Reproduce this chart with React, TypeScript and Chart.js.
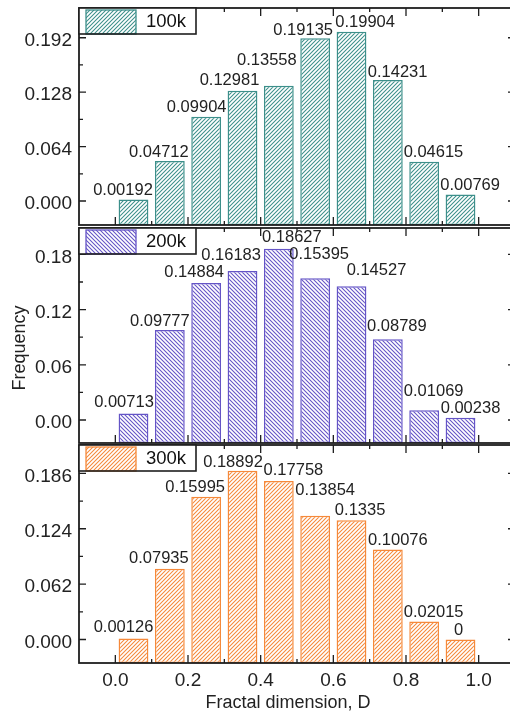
import React, { useEffect, useRef } from "react";
import { Chart, registerables } from "chart.js";

Chart.register(...registerables);

const FONT = "'Liberation Sans', Arial, Helvetica, sans-serif";

// ---- data ----
const binCenters = [0.05, 0.15, 0.25, 0.35, 0.45, 0.55, 0.65, 0.75, 0.85, 0.95];
const xTickValues = [0, 0.2, 0.4, 0.6, 0.8, 1.0];
const seriesNames = ["100k", "200k", "300k"];
const freq100k = [0.00192, 0.04712, 0.09904, 0.12981, 0.13558, 0.19135, 0.19904, 0.14231, 0.04615, 0.00769];
const freq200k = [0.00713, 0.09777, 0.14884, 0.16183, 0.18627, 0.15395, 0.14527, 0.08789, 0.01069, 0.00238];
const freq300k = [0.00126, 0.07935, 0.15995, 0.18892, 0.17758, 0.13854, 0.1335, 0.10076, 0.02015, 0];
const yTicks100k = [0, 0.064, 0.128, 0.192];
const yTicks200k = [0, 0.06, 0.12, 0.18];
const yTicks300k = [0, 0.062, 0.124, 0.186];
const xTitle = "Fractal dimension, D";
const yTitle = "Frequency";

// ---- layout / style config ----
type PanelCfg = {
  name: string;
  values: number[];
  ticks: number[];
  decimals: number;
  min: number;
  max: number;
  color: string;
  dir: "fwd" | "back";
  top: number;
  height: number;
  padTop: number;
  padBottom: number;
  showX: boolean;
  showYTitle: boolean;
  nudges: number[][];
};

const panels: PanelCfg[] = [
  {
    name: seriesNames[0], values: freq100k, ticks: yTicks100k, decimals: 3,
    min: -0.0282, max: 0.227, color: "#3c8f8a", dir: "fwd",
    top: 0, height: 226, padTop: 8, padBottom: 1, showX: false, showYTitle: false,
    nudges: [[-10.5, -4.4], [-11, -3.9], [-9.5, -4.8], [-13, -5.6], [-12, -20.7], [-12, -3.3], [13.6, -4.8], [9.8, -3], [9.3, -4.8], [9.6, -4.5]],
  },
  {
    name: seriesNames[1], values: freq200k, ticks: yTicks200k, decimals: 2,
    min: -0.025, max: 0.2087, color: "#6454c6", dir: "back",
    top: 226, height: 218, padTop: 2, padBottom: 1, showX: false, showYTitle: true,
    nudges: [[-9.5, -6.4], [-10, -4], [-12, -5.6], [-11.4, -11], [13, -6.6], [4, -19], [25, -11], [9, -8], [9.5, -14], [10, -5]],
  },
  {
    name: seriesNames[2], values: freq300k, ticks: yTicks300k, decimals: 3,
    min: -0.0263, max: 0.2178, color: "#f5893a", dir: "fwd",
    top: 444, height: 267, padTop: 1, padBottom: 0, showX: true, showYTitle: false,
    nudges: [[-10, -6.7], [-11, -5.6], [-11, -5], [-9.5, -4], [14.6, -6], [10, -21], [8.6, -5.3], [10, -4.5], [9.5, -4.8], [-2, -4.5]],
  },
];

function makeHatch(color: string, dir: "fwd" | "back"): CanvasPattern {
  const s = 4;
  const c = document.createElement("canvas");
  c.width = s;
  c.height = s;
  const g = c.getContext("2d")!;
  g.fillStyle = "#ffffff";
  g.fillRect(0, 0, s, s);
  g.strokeStyle = color;
  g.lineWidth = 1.05;
  g.beginPath();
  if (dir === "fwd") {
    g.moveTo(0, s); g.lineTo(s, 0);
    g.moveTo(-1, 1); g.lineTo(1, -1);
    g.moveTo(s - 1, s + 1); g.lineTo(s + 1, s - 1);
  } else {
    g.moveTo(0, 0); g.lineTo(s, s);
    g.moveTo(-1, s - 1); g.lineTo(1, s + 1);
    g.moveTo(s - 1, -1); g.lineTo(s + 1, 1);
  }
  g.stroke();
  return g.createPattern(c, "repeat")!;
}

function Panel({ cfg }: { cfg: PanelCfg }) {
  const ref = useRef<HTMLCanvasElement>(null);
  useEffect(() => {
    const canvas = ref.current!;
    const pattern = makeHatch(cfg.color, cfg.dir);
    const step = cfg.ticks[1] - cfg.ticks[0];
    const half = step / 2;
    const allTicks: { v: number; major: boolean }[] = [];
    for (let k = Math.ceil(cfg.min / half); k <= Math.floor(cfg.max / half); k++) {
      allTicks.push({ v: k * half, major: k % 2 === 0 });
    }

    const overlay = {
      id: "overlay",
      afterDatasetsDraw(chart: any) {
        const { ctx, chartArea: a, scales } = chart;
        const xs = scales.x;
        const ys = scales.y;
        ctx.save();
        // value labels
        const meta = chart.getDatasetMeta(0);
        ctx.font = `16.5px ${FONT}`;
        ctx.fillStyle = "#222";
        ctx.textAlign = "center";
        ctx.textBaseline = "alphabetic";
        meta.data.forEach((el: any, i: number) => {
          const [dx, dy] = cfg.nudges[i];
          ctx.fillText(String(cfg.values[i]), el.x + dx, el.y + dy);
        });
        // frame
        ctx.strokeStyle = "#1e1e1e";
        ctx.lineWidth = 1.8;
        ctx.strokeRect(a.left, a.top, a.right - a.left, a.bottom - a.top);
        // ticks (inward)
        ctx.lineWidth = 1.3;
        ctx.beginPath();
        for (let k = 0; k <= 10; k++) {
          const px = xs.getPixelForValue(k / 10);
          const len = k % 2 === 0 ? 8 : 4;
          ctx.moveTo(px, a.bottom); ctx.lineTo(px, a.bottom - len);
          ctx.moveTo(px, a.top); ctx.lineTo(px, a.top + len);
        }
        allTicks.forEach((t) => {
          const py = ys.getPixelForValue(t.v);
          const len = t.major ? 7 : 4;
          ctx.moveTo(a.left, py); ctx.lineTo(a.left + len, py);
          ctx.moveTo(a.right, py); ctx.lineTo(a.right - len, py);
        });
        ctx.stroke();
        // legend box
        const bw = 117, bh = 26;
        ctx.fillStyle = "#fff";
        ctx.fillRect(a.left, a.top, bw, bh);
        ctx.fillStyle = pattern;
        ctx.fillRect(a.left + 7, a.top + 2, 50, bh - 2);
        ctx.strokeStyle = cfg.color;
        ctx.lineWidth = 1.3;
        ctx.strokeRect(a.left + 7, a.top + 2, 50, bh - 2);
        ctx.strokeStyle = "#1e1e1e";
        ctx.lineWidth = 1.6;
        ctx.strokeRect(a.left, a.top, bw, bh);
        ctx.fillStyle = "#111";
        ctx.font = `18.5px ${FONT}`;
        ctx.textAlign = "center";
        ctx.textBaseline = "middle";
        ctx.fillText(cfg.name, a.left + 87, a.top + bh / 2 + 1);
        // axis titles
        if (cfg.showX) {
          ctx.fillStyle = "#222";
          ctx.font = `18px ${FONT}`;
          ctx.textAlign = "center";
          ctx.textBaseline = "alphabetic";
          ctx.fillText(xTitle, 288, 708 - cfg.top);
        }
        if (cfg.showYTitle) {
          ctx.translate(20, 348 - cfg.top);
          ctx.rotate(-Math.PI / 2);
          ctx.fillStyle = "#222";
          ctx.font = `18px ${FONT}`;
          ctx.textAlign = "center";
          ctx.textBaseline = "middle";
          ctx.fillText(yTitle, 0, 0);
        }
        ctx.restore();
      },
    };

    const chart = new Chart(canvas, {
      type: "bar",
      data: {
        datasets: [
          {
            label: cfg.name,
            data: binCenters.map((x, i) => ({ x, y: cfg.values[i] })) as any,
            base: cfg.min,
            backgroundColor: pattern as any,
            borderColor: cfg.color,
            borderWidth: 1.5,
            borderSkipped: false,
            categoryPercentage: 1,
            barPercentage: 0.82,
          } as any,
        ],
      },
      options: {
        animation: false,
        responsive: false,
        maintainAspectRatio: false,
        events: [],
        layout: { padding: { left: 0, right: 5, top: cfg.padTop, bottom: cfg.padBottom } },
        plugins: { legend: { display: false }, tooltip: { enabled: false } },
        scales: {
          x: {
            type: "linear",
            min: -0.1,
            max: 1.1,
            offset: false,
            display: cfg.showX,
            grid: { display: false, drawTicks: false, tickLength: 0 },
            border: { display: false },
            afterBuildTicks: (s: any) => {
              s.ticks = xTickValues.map((v) => ({ value: v }));
            },
            afterFit: (s: any) => {
              if (cfg.showX) s.height = 48;
              s.paddingLeft = 0;
              s.paddingRight = 0;
            },
            ticks: {
              padding: 6,
              color: "#222",
              font: { size: 19, family: FONT },
              maxRotation: 0,
              autoSkip: false,
              callback: (v: any) => Number(v).toFixed(1),
            },
          } as any,
          y: {
            type: "linear",
            min: cfg.min,
            max: cfg.max,
            grid: { display: false, drawTicks: false, tickLength: 0 },
            border: { display: false },
            afterBuildTicks: (s: any) => {
              s.ticks = cfg.ticks.map((v) => ({ value: v }));
            },
            afterFit: (s: any) => {
              s.width = 79;
              s.paddingTop = 0;
              s.paddingBottom = 0;
            },
            ticks: {
              padding: 7,
              labelOffset: 3,
              color: "#222",
              font: { size: 19, family: FONT },
              autoSkip: false,
              callback: (v: any) => Number(v).toFixed(cfg.decimals),
            },
          } as any,
        },
      },
      plugins: [overlay],
    });
    return () => chart.destroy();
  }, [cfg]);
  return (
    <canvas
      ref={ref}
      width={520}
      height={cfg.height}
      style={{ position: "absolute", left: 0, top: cfg.top, width: 520, height: cfg.height }}
    />
  );
}

export default function App() {
  return (
    <div
      style={{
        position: "fixed",
        left: 0,
        top: 0,
        width: 510,
        height: 711,
        overflow: "hidden",
        background: "#fff",
      }}
    >
      {panels.map((p) => (
        <Panel key={p.name} cfg={p} />
      ))}
    </div>
  );
}
